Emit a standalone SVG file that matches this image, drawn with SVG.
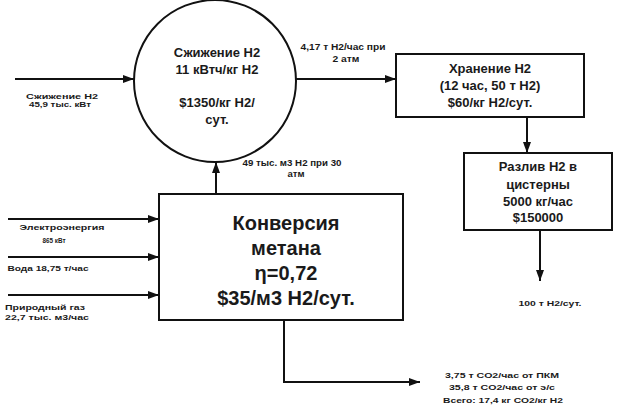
<svg xmlns="http://www.w3.org/2000/svg" width="618" height="409" viewBox="0 0 618 409">
<defs>
<marker id="arr" markerUnits="userSpaceOnUse" markerWidth="11" markerHeight="8" refX="11" refY="4" orient="auto">
<path d="M0,0 L11,4 L0,8 z" fill="#111"/>
</marker>
<style>
.shape{fill:#fff;stroke:#111;stroke-width:2}
.conn{fill:none;stroke:#111;stroke-width:2;marker-end:url(#arr)}
text{font-family:"Liberation Sans",Arial,sans-serif;font-weight:bold;fill:#1a1a1a;text-anchor:middle}
.mid{font-size:13px}
.big{font-size:20px}
.sm{font-size:9px}
.xs{font-size:8px}
</style>
</defs>
<rect width="618" height="409" fill="#fff"/>
<g id="connectors">
<line class="conn" x1="15" y1="79" x2="134" y2="79"/>
<line class="conn" x1="296" y1="79" x2="396" y2="79"/>
<line class="conn" x1="527" y1="117" x2="527" y2="153"/>
<line class="conn" x1="540" y1="230" x2="540" y2="281"/>
<line class="conn" x1="216" y1="194" x2="216" y2="162"/>
<line class="conn" x1="8" y1="219" x2="159" y2="219"/>
<line class="conn" x1="8" y1="257" x2="159" y2="257"/>
<line class="conn" x1="8" y1="295" x2="159" y2="295"/>
<polyline class="conn" points="284,320 284,382 420,382"/>
</g>
<g id="liquefaction">
<circle class="shape" cx="215" cy="81" r="81"/>
<text class="mid" x="217" y="57">Сжижение H2</text>
<text class="mid" x="217" y="74">11 кВтч/кг H2</text>
<text class="mid" x="217" y="107">$1350/кг H2/</text>
<text class="mid" x="217" y="124">сут.</text>
</g>
<g id="storage">
<rect class="shape" x="396" y="54" width="188" height="63"/>
<text class="mid" x="490" y="73">Хранение H2</text>
<text class="mid" x="490" y="90">(12 час, 50 т H2)</text>
<text class="mid" x="490" y="107">$60/кг H2/сут.</text>
</g>
<g id="filling">
<rect class="shape" x="464" y="153" width="148" height="77"/>
<text class="mid" x="538" y="171">Разлив H2 в</text>
<text class="mid" x="538" y="189">цистерны</text>
<text class="mid" x="538" y="206">5000 кг/час</text>
<text class="mid" x="538" y="222">$150000</text>
</g>
<g id="conversion">
<rect class="shape" x="159" y="194" width="244" height="126"/>
<text class="big" x="286" y="230">Конверсия</text>
<text class="big" x="286" y="255">метана</text>
<text class="big" x="286" y="280">η=0,72</text>
<text class="big" x="286" y="305">$35/м3 H2/сут.</text>
</g>
<g id="labels">
<text class="xs" x="62" y="99" textLength="72" lengthAdjust="spacingAndGlyphs">Сжижение H2</text>
<text class="xs" x="60" y="107" textLength="62" lengthAdjust="spacingAndGlyphs">45,9 тыс. кВт</text>
<text class="sm" x="343" y="50" textLength="85" lengthAdjust="spacingAndGlyphs">4,17 т H2/час при</text>
<text class="sm" x="346" y="62" textLength="27" lengthAdjust="spacingAndGlyphs">2 атм</text>
<text class="sm" x="292" y="166" textLength="99" lengthAdjust="spacingAndGlyphs">49 тыс. м3 H2 при 30</text>
<text class="sm" x="296" y="177" textLength="17" lengthAdjust="spacingAndGlyphs">атм</text>
<text class="xs" x="62" y="230" textLength="85" lengthAdjust="spacingAndGlyphs">Электроэнергия</text>
<text class="xs" x="54" y="243" textLength="23" lengthAdjust="spacingAndGlyphs">865 кВт</text>
<text class="xs" x="48" y="271" textLength="81" lengthAdjust="spacingAndGlyphs">Вода 18,75 т/час</text>
<text class="xs" x="45" y="310" textLength="80" lengthAdjust="spacingAndGlyphs">Природный газ</text>
<text class="xs" x="47" y="320" textLength="84" lengthAdjust="spacingAndGlyphs">22,7 тыс. м3/час</text>
<text class="xs" x="550" y="306" textLength="63" lengthAdjust="spacingAndGlyphs">100 т H2/сут.</text>
<text class="xs" x="502" y="378" textLength="114" lengthAdjust="spacingAndGlyphs">3,75 т CO2/час от ПКМ</text>
<text class="xs" x="502" y="390" textLength="106" lengthAdjust="spacingAndGlyphs">35,8 т CO2/час от э/с</text>
<text class="xs" x="503" y="403" textLength="120" lengthAdjust="spacingAndGlyphs">Всего: 17,4 кг CO2/кг H2</text>
</g>
</svg>
